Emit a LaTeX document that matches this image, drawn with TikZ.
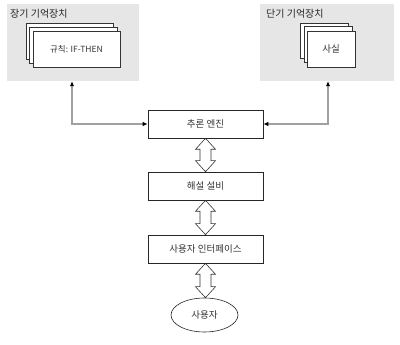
\documentclass[tikz,border=0pt]{standalone}
\usepackage{fontspec}
\setmainfont{Noto Sans CJK KR}
\usetikzlibrary{arrows.meta,calc,shapes.geometric}
\definecolor{panelgray}{HTML}{E6E6E6}
\definecolor{linegray}{HTML}{A0A0A0}
\tikzset{
  panel/.style={fill=panelgray, draw=none, inner sep=0pt},
  panellabel/.style={anchor=west, inner sep=0pt, font=\fontsize{10}{11}\selectfont, text=black!85},
  card/.style={draw=black!80, fill=white, line width=0.5pt, inner sep=0pt},
  procbox/.style={draw=black!85, fill=white, line width=0.6pt, minimum width=115pt, minimum height=28pt, inner sep=0pt, font=\fontsize{9.5}{11}\selectfont, text=black!80},
  userell/.style={draw=black!85, ellipse, fill=white, line width=0.6pt, minimum width=67pt, minimum height=34pt, inner sep=0pt, font=\fontsize{9.5}{11}\selectfont, text=black!80},
  conn/.style={draw=linegray, line width=1.3pt, {Latex[length=5pt,width=4.5pt,black]}-{Latex[length=5pt,width=4.5pt,black]}},
  dbl/.style={draw=black!80, fill=white, line width=0.6pt, line join=miter}
}
\newcommand\dbarrow[2]{%
  \draw[dbl] let \p1=(#1.south), \p2=(#2.north) in
    (\x1,\y1) -- (\x1+10pt,\y1-11pt) -- (\x1+5.5pt,\y1-11pt) -- (\x1+5.5pt,\y2+11pt)
    -- (\x1+10pt,\y2+11pt) -- (\x1,\y2) -- (\x1-10pt,\y2+11pt) -- (\x1-5.5pt,\y2+11pt)
    -- (\x1-5.5pt,\y1-11pt) -- (\x1-10pt,\y1-11pt) -- cycle;}
\begin{document}
\begin{tikzpicture}[x=1pt,y=-1pt]
\useasboundingbox[fill=white] (0,0) rectangle (400,345);
% long-term memory
\node[panel, minimum width=132pt, minimum height=77pt] (ltm) at (73,42.5) {};
\node[panellabel] (ltmlab) at (10,14) {장기 기억장치};
\node[card, minimum width=87pt, minimum height=36pt] (lc3) at (69.5,41) {};
\node[card, minimum width=88pt, minimum height=36pt] (lc2) at (73,45) {};
\node[card, minimum width=87pt, minimum height=36pt, font=\fontsize{8.5}{10}\selectfont, text=black!80] (lc1) at (76.5,49) {규칙: IF-THEN};
% short-term memory
\node[panel, minimum width=134pt, minimum height=77pt] (stm) at (327,42.5) {};
\node[panellabel] (stmlab) at (266,14) {단기 기억장치};
\node[card, minimum width=48pt, minimum height=35pt] (rc3) at (324,40.5) {};
\node[card, minimum width=48pt, minimum height=36pt] (rc2) at (328,44) {};
\node[card, minimum width=48pt, minimum height=36pt, font=\fontsize{9.5}{11}\selectfont, text=black!80] (rc1) at (331,49) {사실};
% process boxes
\node[procbox] (eng) at (205.5,124) {추론 엔진};
\node[procbox] (expl) at (205.5,186) {해설 설비};
\node[procbox] (ui) at (205.5,249) {사용자 인터페이스};
\node[userell] (user) at (204.5,315) {사용자};
% connectors
\draw[conn] (ltm.south -| 72,0) |- (eng.west);
\draw[conn] (stm.south -| 328,0) |- (eng.east);
\dbarrow{eng}{expl}
\dbarrow{expl}{ui}
\dbarrow{ui}{user}
\end{tikzpicture}
\end{document}
